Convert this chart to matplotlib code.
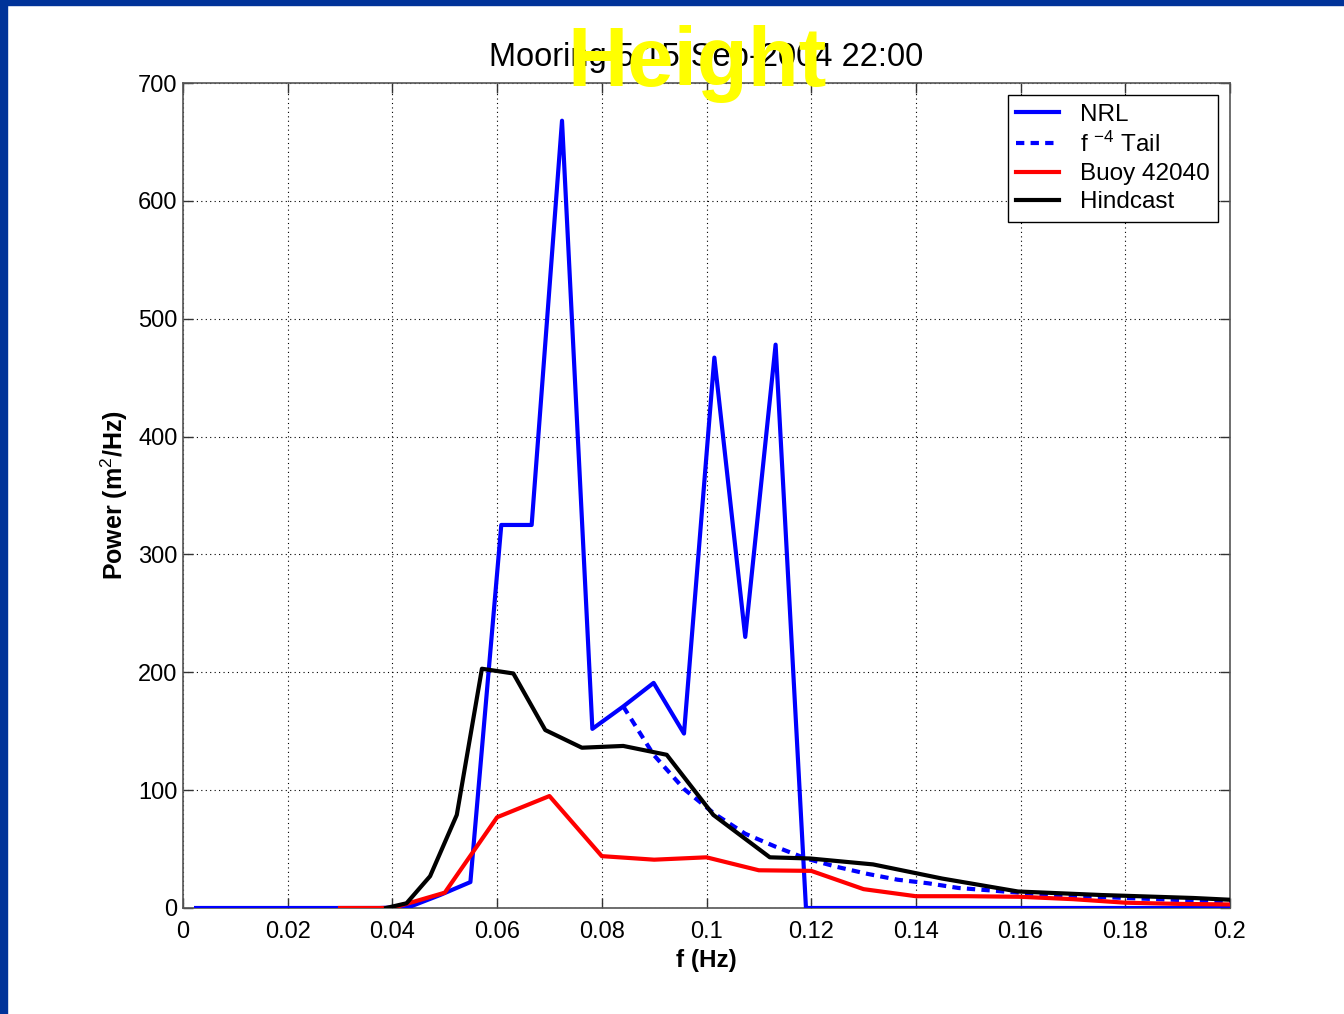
import numpy as np
import matplotlib
matplotlib.use("Agg")
import matplotlib.pyplot as plt
from matplotlib.patches import Rectangle

plt.rcParams.update({
    "font.family": ["Liberation Sans", "DejaVu Sans"],
    "mathtext.fontset": "custom",
    "mathtext.rm": "Liberation Sans",
    "mathtext.it": "Liberation Sans",
    "mathtext.bf": "Liberation Sans:bold",
    "font.size": 17,
})

# --- NRL spectrum (uniform frequency grid) ---
f_nrl = [0.0025, 0.0083, 0.0142, 0.0200, 0.0258, 0.0316, 0.0375, 0.0433,
         0.0491, 0.0549, 0.0608, 0.0666, 0.0724, 0.0782, 0.0841, 0.0899,
         0.0957, 0.1015, 0.1074, 0.1132, 0.1190, 0.1248, 0.1307, 0.1365,
         0.1423, 0.1481, 0.1540, 0.1598, 0.1656, 0.1714, 0.1773, 0.1831,
         0.1889, 0.1947, 0.2000]
p_nrl = [0, 0, 0, 0, 0, 0, 0, 1,
         11, 22, 325, 325, 668, 152, 171, 191,
         148, 467, 230, 478, 0, 0, 0, 0,
         0, 0, 0, 0, 0, 0, 0, 0,
         0, 0, 0]

# --- f^-4 tail, from the branch point onward ---
f_tail = f_nrl[14:]
p_tail = [171, 130, 101, 80, 63, 52, 42, 35, 29, 24, 21,
          17, 15, 13, 11, 10, 9, 8, 7, 6, 5]

# --- Buoy 42040 ---
f_buoy = [0.03, 0.04, 0.05, 0.06, 0.07, 0.08, 0.09, 0.10, 0.11, 0.12,
          0.13, 0.14, 0.15, 0.16, 0.17, 0.18, 0.19, 0.20]
p_buoy = [0, 0, 13, 77, 95, 44, 41, 43, 32, 31.5,
          16, 10, 10, 9.5, 7.5, 4.5, 3.5, 3]

# --- Hindcast (log-spaced frequencies) ---
f_hind = [0.0388, 0.0427, 0.0472, 0.0523, 0.0571, 0.0631, 0.0692, 0.0762,
          0.0841, 0.0924, 0.1013, 0.1121, 0.1198, 0.1318, 0.1450, 0.1595,
          0.1755, 0.1930, 0.2000]
p_hind = [0, 4, 27, 79, 203, 199, 151, 136,
          137.5, 130, 79, 43, 42, 37, 25, 14,
          11, 8.5, 7]

W, H = 1344, 1014
fig = plt.figure(figsize=(W / 100, H / 100), dpi=100)
fig.patch.set_facecolor("white")
ax = fig.add_axes([183 / W, 1 - 908 / H, (1230 - 183) / W, (908 - 83) / H])

lw = 3.0
ax.plot(f_nrl, p_nrl, color="#0000ff", lw=lw, label="NRL", zorder=3)
ax.plot(f_tail, p_tail, color="#0000ff", lw=lw, ls=(0, (2.0, 1.5)),
        label="f $^{-4}$ Tail", zorder=3)
ax.plot(f_buoy, p_buoy, color="#ff0000", lw=lw, label="Buoy 42040", zorder=3)
ax.plot(f_hind, p_hind, color="black", lw=lw, label="Hindcast", zorder=4)

ax.set_xlim(0, 0.2)
ax.set_ylim(0, 700)
ax.set_xticks([0, 0.02, 0.04, 0.06, 0.08, 0.1, 0.12, 0.14, 0.16, 0.18, 0.2])
ax.set_xticklabels(["0", "0.02", "0.04", "0.06", "0.08", "0.1", "0.12",
                    "0.14", "0.16", "0.18", "0.2"])
ax.set_yticks(range(0, 701, 100))
ax.grid(True, ls=(0, (1, 3)), color="black", lw=0.8)
ax.tick_params(direction="in", length=7, width=1, top=True, right=True,
               labelsize=17, color="#333333")
ax.tick_params(axis="x", pad=9)
ax.tick_params(axis="y", pad=4)
for s in ax.spines.values():
    s.set_color("#555555")
    s.set_linewidth(1.2)

ax.set_xlabel("f (Hz)", fontsize=17.5, fontweight="bold", labelpad=5)
ax.set_ylabel("Power (m$^2$/Hz)", fontsize=18, fontweight="bold", labelpad=6)
ax.set_title("Mooring 5 15-Sep-2004 22:00", fontsize=23.5, pad=12)

leg = ax.legend(loc="upper right", fontsize=17.5, fancybox=False, framealpha=1,
                edgecolor="black", borderaxespad=0.5, handlelength=1.75,
                handletextpad=0.85, labelspacing=0.25, borderpad=0.35)
leg.get_frame().set_linewidth(1.0)

# overlaid heading
fig.text(697 / W, 1 - 86 / H, "Height", color="#ffff00", fontsize=60,
         fontweight="bold", ha="center", va="baseline", zorder=10)

# frame strips on the left and top edges
fig.patches.append(Rectangle((0, 0), 7 / W, 1, transform=fig.transFigure,
                             color="#003399", zorder=20))
fig.patches.append(Rectangle((0, 1 - 5 / H), 1, 5 / H,
                             transform=fig.transFigure, color="#003399",
                             zorder=20))

fig.savefig("out.png", dpi=100)
